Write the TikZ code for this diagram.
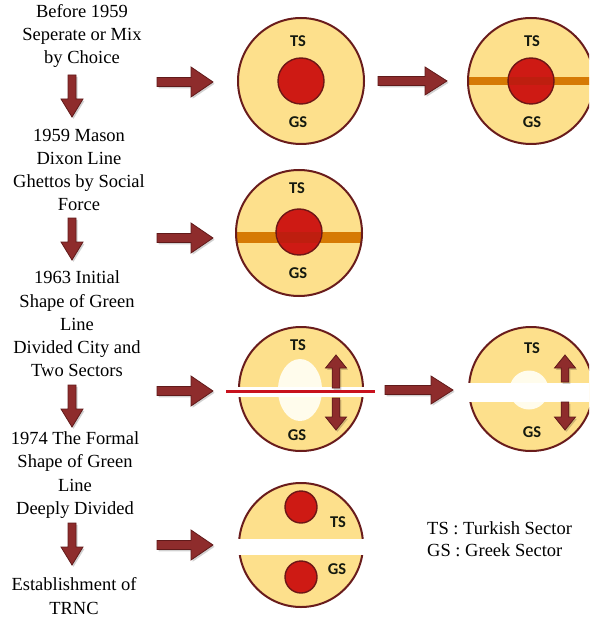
\documentclass[tikz,border=0pt]{standalone}
\usepackage{fontspec}
\setmainfont{Liberation Serif}
\newfontfamily\lblfont{Carlito}
\definecolor{cityyellow}{RGB}{253,224,140}
\definecolor{citybrown}{RGB}{105,28,28}
\definecolor{corered}{RGB}{206,26,20}
\definecolor{corebrown}{RGB}{110,22,22}
\definecolor{bandorange}{RGB}{214,122,4}
\definecolor{bandred}{RGB}{190,30,15}
\definecolor{arrfill}{RGB}{142,44,44}
\definecolor{arrline}{RGB}{96,26,26}
\definecolor{voidwhite}{RGB}{255,252,236}
\definecolor{lineRed}{RGB}{200,18,30}
\definecolor{lbltext}{RGB}{20,25,15}
\tikzset{
  city/.style={fill=cityyellow},
  cityline/.style={draw=citybrown, line width=2pt},
  core/.style={fill=corered, draw=corebrown, line width=1.4pt},
  lbl/.style={font=\lblfont\bfseries\fontsize{16.5}{16.5}\selectfont, text=lbltext, inner sep=0pt},
  steptext/.style={align=center, font=\fontsize{18.5}{23.3}\selectfont, inner sep=0pt},
  legendtext/.style={anchor=west, font=\fontsize{18.5}{22}\selectfont, inner sep=0pt},
  arrbody/.style={fill=arrfill, draw=arrline, line width=0.8pt, line join=miter},
  arrshadow/.style={fill=black, opacity=0.18},
}
% horizontal block arrow: xtail, xheadbase, xtip, y, head half, shaft half
\newcommand\harrow[6]{%
  \fill[arrshadow, shift={(1.5,1.8)}] (#1,{#4-#6}) -- (#2,{#4-#6}) -- (#2,{#4-#5}) -- (#3,#4) -- (#2,{#4+#5}) -- (#2,{#4+#6}) -- (#1,{#4+#6}) -- cycle;
  \filldraw[arrbody] (#1,{#4-#6}) -- (#2,{#4-#6}) -- (#2,{#4-#5}) -- (#3,#4) -- (#2,{#4+#5}) -- (#2,{#4+#6}) -- (#1,{#4+#6}) -- cycle;}
% vertical block arrow: x, ytail, yheadbase, ytip, head half, shaft half
\newcommand\varrow[6]{%
  \fill[arrshadow, shift={(1.5,1.8)}] ({#1-#6},#2) -- ({#1-#6},#3) -- ({#1-#5},#3) -- (#1,#4) -- ({#1+#5},#3) -- ({#1+#6},#3) -- ({#1+#6},#2) -- cycle;
  \filldraw[arrbody] ({#1-#6},#2) -- ({#1-#6},#3) -- ({#1-#5},#3) -- (#1,#4) -- ({#1+#5},#3) -- ({#1+#6},#3) -- ({#1+#6},#2) -- cycle;}
\begin{document}
\begin{tikzpicture}[x=1pt,y=-1pt]
\useasboundingbox (0,0) rectangle (589,620);
\clip (0,0) rectangle (589,620);

% ---------- left column texts ----------
\node[steptext] (b1) at (82,36) {Before 1959\\Seperate or Mix\\by Choice};
\node[steptext] (b2) at (79,170) {1959 Mason\\Dixon Line\\Ghettos by Social\\Force};
\node[steptext] (b3) at (77,324) {1963 Initial\\Shape of Green\\Line\\Divided City and\\Two Sectors};
\node[steptext] (b4) at (75,475) {1974 The Formal\\Shape of Green\\Line\\Deeply Divided};
\node[steptext] (b5) at (74,596) {Establishment of\\TRNC};

% down arrows
\varrow{72}{75}{99}{117}{11}{4}
\varrow{72}{218}{242}{260}{11}{4}
\varrow{72}{385}{409}{427}{11}{4}
\varrow{72}{523}{547}{565}{11}{4}

% right arrows from the column
\harrow{157}{191}{213}{82}{15}{4.5}
\harrow{157}{191}{213}{238}{15}{4.5}
\harrow{157}{191}{213}{391}{15}{4.5}
\harrow{157}{191}{213}{545}{15}{4.5}

% arrows between circles
\harrow{378}{425}{447}{81}{14}{4.5}
\harrow{385}{431}{453}{390}{14}{4.5}

% ---------- circle 1 ----------
\coordinate (c1) at (301,81);
\fill[city] (c1) circle[radius=63];
\draw[cityline] (c1) circle[radius=63];
\draw[core] (c1) circle[radius=23];
\node[lbl] (c1ts) at (298,41) {TS};
\node[lbl] (c1gs) at (298,122) {GS};

% ---------- circle 2 ----------
\coordinate (c2) at (531,81);
\fill[city] (c2) circle[radius=63];
\begin{scope}
  \clip (c2) circle[radius=63];
  \fill[bandorange] (460,77) rectangle (600,85);
\end{scope}
\draw[cityline] (c2) circle[radius=63];
\draw[core] (c2) circle[radius=23];
\begin{scope}
  \clip (c2) circle[radius=22];
  \fill[bandred] (460,77) rectangle (600,85);
\end{scope}
\node[lbl] (c2ts) at (532,41) {TS};
\node[lbl] (c2gs) at (532,122) {GS};

% ---------- circle 3 ----------
\coordinate (c3) at (299,233);
\fill[city] (c3) circle[radius=63];
\begin{scope}
  \clip (c3) circle[radius=63];
  \fill[bandorange] (220,232) rectangle (380,243);
\end{scope}
\draw[cityline] (c3) circle[radius=63];
\coordinate (k3) at (299,232);
\draw[core] (k3) circle[radius=23];
\begin{scope}
  \clip (k3) circle[radius=22];
  \fill[bandred] (220,232) rectangle (380,243);
\end{scope}
\node[lbl] (c3ts) at (297,188) {TS};
\node[lbl] (c3gs) at (298,273) {GS};

% ---------- circle 4 ----------
\coordinate (c4) at (301,389);
\fill[city] (c4) circle[radius=62];
\draw[cityline] (c4) circle[radius=62];
\fill[voidwhite] (300,390) ellipse[x radius=22, y radius=31];
\fill[white] (226,386.5) rectangle (375,397);
\draw[lineRed, line width=3pt] (226,391.5) -- (375,391.5);
\node[lbl] (c4ts) at (298,345) {TS};
\node[lbl] (c4gs) at (297,435) {GS};
\varrow{336}{388}{368}{355}{10.5}{3.8}
\varrow{336}{398}{417}{430}{10.5}{3.8}

% ---------- circle 5 ----------
\coordinate (c5) at (531,389);
\fill[city] (c5) circle[radius=62];
\draw[cityline] (c5) circle[radius=62];
\fill[voidwhite] (529,390) circle[radius=19.5];
\fill[white] (462,383) rectangle (600,402);
\node[lbl] (c5ts) at (532,348) {TS};
\node[lbl] (c5gs) at (532,432) {GS};
\varrow{565}{382}{368}{355}{10.5}{3.8}
\varrow{565}{402}{417}{430}{10.5}{3.8}

% ---------- circle 6 ----------
\coordinate (c6) at (301,545);
\fill[city] (c6) circle[radius=62];
\draw[cityline] (c6) circle[radius=62];
\fill[white] (234,539) rectangle (369,555);
\draw[core] (301,507) circle[radius=16];
\draw[core] (301,577) circle[radius=16];
\node[lbl] (c6ts) at (338,522) {TS};
\node[lbl] (c6gs) at (337,569) {GS};

% ---------- legend ----------
\node[legendtext] (lts) at (427,528) {TS : Turkish Sector};
\node[legendtext] (lgs) at (427,550) {GS : Greek Sector};
\end{tikzpicture}
\end{document}
